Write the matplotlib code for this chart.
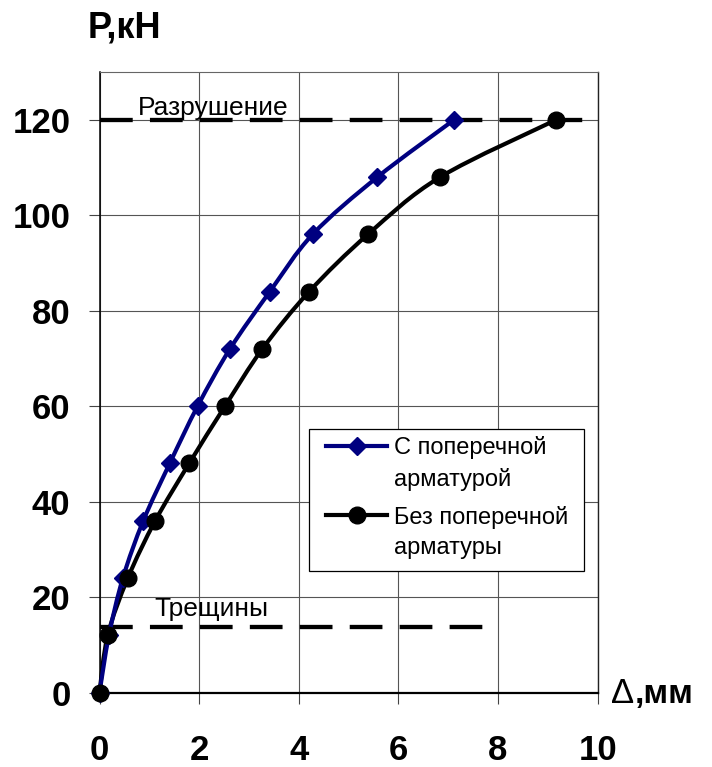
import matplotlib
matplotlib.use("Agg")
import matplotlib.pyplot as plt
from matplotlib.path import Path
from matplotlib.patches import PathPatch, Rectangle
from matplotlib.lines import Line2D
from matplotlib.legend_handler import HandlerLine2D
import numpy as np

plt.rcParams['font.family'] = ['Liberation Sans', 'DejaVu Sans']

# ---- data ----
x_with = [0, 0.19, 0.47, 0.88, 1.41, 1.97, 2.62, 3.42, 4.28, 5.58, 7.12]
p_with = [0, 12, 24, 36, 48, 60, 72, 84, 96, 108, 120]
x_without = [0, 0.165, 0.57, 1.12, 1.80, 2.52, 3.27, 4.21, 5.39, 6.84, 9.17]
p_without = [0, 12, 24, 36, 48, 60, 72, 84, 96, 108, 120]
label_with = "С поперечной\nарматурой"
label_without = "Без поперечной\nарматуры"
failure_x = [0, 10]
failure_p = [120, 120]
crack_x = [0, 8]
crack_p = [13.7, 13.7]
x_ticks = [0, 2, 4, 6, 8, 10]
y_ticks = [0, 20, 40, 60, 80, 100, 120]

BLUE = '#000080'
W, H = 712, 767

fig = plt.figure(figsize=(W/100, H/100), dpi=100)
AX_L, AX_R, AX_T, AX_B = 99.5, 597.7, 72.0, 692.5
ax = fig.add_axes([AX_L/W, 1-AX_B/H, (AX_R-AX_L)/W, (AX_B-AX_T)/H])
ax.set_xlim(0, 10)
ax.set_ylim(0, 130)


def ax_px(px, py):
    return ((px - AX_L) / (AX_R - AX_L), (AX_B - py) / (AX_B - AX_T))


ax.set_xticks(x_ticks)
ax.set_yticks(y_ticks)
ax.grid(True, color='#555555', linewidth=0.8)
ax.set_axisbelow(True)
ax.tick_params(axis='both', direction='out', length=7.7, width=0.8, color='#444444')
ax.tick_params(axis='x', pad=22, labelsize=25)
ax.tick_params(axis='y', pad=13.2, labelsize=25)
for lab in ax.get_xticklabels() + ax.get_yticklabels():
    lab.set_fontweight('bold')

ax.spines['top'].set_color('#666666')
ax.spines['top'].set_linewidth(0.8)
ax.spines['right'].set_color('#222222')
ax.spines['right'].set_linewidth(1.0)
ax.spines['left'].set_color('black')
ax.spines['left'].set_linewidth(1.1)
ax.spines['bottom'].set_color('black')
ax.spines['bottom'].set_linewidth(1.6)

# dashed reference lines
ax.plot(failure_x, failure_p, color='black', linewidth=3.1, dashes=(7.6, 4.0),
        zorder=2, clip_on=False)
ax.plot(crack_x, crack_p, color='black', linewidth=3.1, dashes=(7.6, 4.0),
        zorder=2, clip_on=False)


def smooth_path(xs, ys):
    pts = np.column_stack([xs, ys]).astype(float)
    n = len(pts)
    verts = [pts[0]]
    codes = [Path.MOVETO]
    for i in range(n - 1):
        p0 = pts[i - 1] if i > 0 else pts[i]
        p1 = pts[i]
        p2 = pts[i + 1]
        p3 = pts[i + 2] if i + 2 < n else pts[i + 1]
        c1 = p1 + (p2 - p0) / 6.0
        c2 = p2 - (p3 - p1) / 6.0
        verts += [c1, c2, p2]
        codes += [Path.CURVE4] * 3
    return Path(verts, codes)


for xs, ys, col in [(x_without, p_without, 'black'), (x_with, p_with, BLUE)]:
    patch = PathPatch(smooth_path(xs, ys), facecolor='none', edgecolor=col,
                      linewidth=3.0, transform=ax.transData, zorder=3,
                      clip_on=False, capstyle='round', joinstyle='round')
    ax.add_patch(patch)

ax.plot(x_with, p_with, linestyle='none', marker='D', markersize=9.5,
        color=BLUE, zorder=4, clip_on=False)
ax.plot(x_without, p_without, linestyle='none', marker='o', markersize=12,
        color='black', zorder=5, clip_on=False)

# annotations
ax.text(0.775, 120.9, "Разрушение", fontsize=19, va='baseline', ha='left', zorder=6)
ax.text(1.11, 16.0, "Трещины", fontsize=19, va='baseline', ha='left', zorder=6)


# legend: handle aligned with the first text line of each entry
class FirstLineHandler(HandlerLine2D):
    def __init__(self, shift_pt, **kw):
        super().__init__(**kw)
        self.shift_pt = shift_pt

    def create_artists(self, legend, orig_handle, xdescent, ydescent, width,
                       height, fontsize, trans):
        arts = super().create_artists(legend, orig_handle, xdescent, ydescent,
                                      width, height, fontsize, trans)
        for a in arts:
            a.set_ydata(np.asarray(a.get_ydata(), float) + self.shift_pt)
        return arts


fx0, fy1 = ax_px(309, 428.5)
fx1, fy0 = ax_px(584.4, 571)
ax.add_patch(Rectangle((fx0, fy0), fx1 - fx0, fy1 - fy0, transform=ax.transAxes,
                       facecolor='white', edgecolor='black', linewidth=0.9,
                       zorder=7))
h1 = Line2D([], [], color=BLUE, linewidth=3.0, marker='D', markersize=9.5)
h2 = Line2D([], [], color='black', linewidth=3.0, marker='o', markersize=12)
leg = ax.legend([h1, h2], [label_with, label_without], loc='upper left',
                bbox_to_anchor=ax_px(326, 436), frameon=False,
                borderaxespad=0, borderpad=0, fontsize=17, handlelength=2.6,
                handletextpad=0.3, labelspacing=0.6,
                handler_map={h1: FirstLineHandler(13.0), h2: FirstLineHandler(13.0)})
leg.set_zorder(8)
for t in leg.get_texts():
    t.set_linespacing(1.52)

# axis labels
fig.text(87.4/W, 1 - 37.9/H, "P,кН", fontsize=26, fontweight='bold',
         ha='left', va='baseline')
td = fig.text(611/W, 1 - 703/H, "Δ", fontsize=25, fontweight='normal',
              ha='left', va='baseline')
fig.canvas.draw()
bb = td.get_window_extent()
fig.text((bb.x1 + 1)/W, 1 - 703/H, ",мм", fontsize=24, fontweight='bold',
         ha='left', va='baseline')

fig.savefig("out.png", dpi=100)
